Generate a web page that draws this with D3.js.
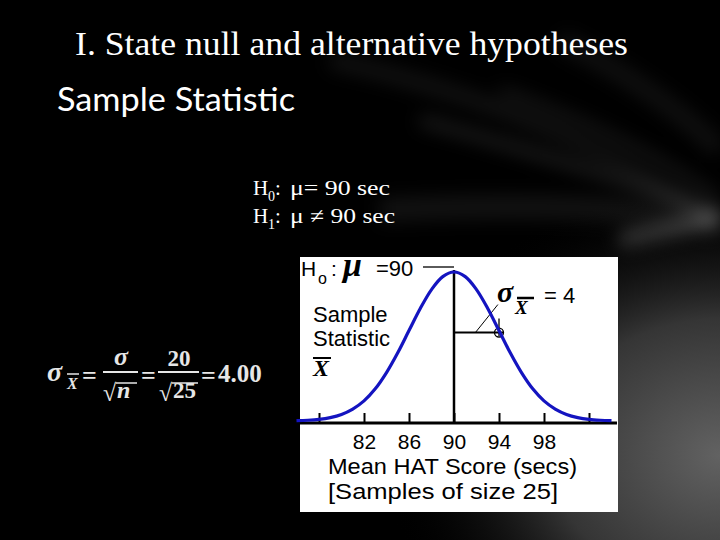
<!DOCTYPE html>
<html><head><meta charset="utf-8">
<script src="https://cdn.jsdelivr.net/npm/d3@7"></script>
<style>html,body{margin:0;padding:0;background:#000;}svg{display:block}</style>
</head><body>
<svg id="c" width="720" height="540"></svg>
<script>
// ---- data ----
const tickValues = [78, 82, 86, 90, 94, 98, 102];
const tickLabels = ["", "82", "86", "90", "94", "98", ""];
const curveScores  = [76, 77, 78, 79, 80, 81, 82, 83, 84, 85, 86, 87, 88, 89, 90, 91, 92, 93, 94, 95, 96, 97, 98, 99, 100, 101, 102, 103, 104];
const curveHeights = [0.002, 0.005, 0.011, 0.023, 0.044, 0.080, 0.135, 0.216, 0.325, 0.458, 0.607, 0.755, 0.882, 0.969, 1.0, 0.969, 0.882, 0.755, 0.607, 0.458, 0.325, 0.216, 0.135, 0.080, 0.044, 0.023, 0.011, 0.005, 0.002];
const muValue = 90;
const sdMarker = 94;        // mu + one standard error
const sdMarkerHeight = 0.607;
const titleText = "I. State null and alternative hypotheses";
const subtitleText = "Sample Statistic";
const xLabel1 = "Mean HAT Score (secs)";
const xLabel2 = "[Samples of size 25]";

const svg = d3.select("#c");
const defs = svg.append("defs");

// ---- background ----
svg.append("rect").attr("width", 720).attr("height", 540).attr("fill", "#000");
const blur = defs.append("filter").attr("id", "blur").attr("x", "-20%").attr("y", "-50%").attr("width", "140%").attr("height", "200%");
blur.append("feGaussianBlur").attr("stdDeviation", 9);
const rg = defs.append("radialGradient").attr("id", "rg").attr("cx", 1).attr("cy", 0.75).attr("r", 0.8);
rg.append("stop").attr("offset", 0).attr("stop-color", "#626262");
rg.append("stop").attr("offset", 0.5).attr("stop-color", "#353535");
rg.append("stop").attr("offset", 1).attr("stop-color", "#000").attr("stop-opacity", 0);
svg.append("rect").attr("x", 300).attr("y", 200).attr("width", 420).attr("height", 340).attr("fill", "url(#rg)");
const streaks = [
  {d: "M330,60 Q560,110 720,225", w: 16, o: 0.07},
  {d: "M420,120 Q600,170 720,215", w: 10, o: 0.12},
  {d: "M560,40 Q660,90 720,150", w: 20, o: 0.06},
  {d: "M380,210 Q600,200 720,222", w: 24, o: 0.07},
  {d: "M500,90 Q640,140 720,200", w: 6, o: 0.14},
  {d: "M620,240 Q690,225 720,218", w: 12, o: 0.25}
];
svg.append("g").attr("filter", "url(#blur)").selectAll("path").data(streaks).join("path")
  .attr("d", d => d.d).attr("fill", "none").attr("stroke", "#fff")
  .attr("stroke-width", d => d.w).attr("stroke-opacity", d => d.o);

// ---- titles ----
svg.append("text").attr("x", 75).attr("y", 55).attr("fill", "#fff")
  .attr("font-family", "Liberation Serif, Times New Roman, serif").attr("font-size", 33)
  .attr("textLength", 553).attr("lengthAdjust", "spacingAndGlyphs").text(titleText);
svg.append("text").attr("x", 57).attr("y", 111).attr("fill", "#fff")
  .attr("font-family", "Lato, Open Sans, sans-serif").attr("font-size", 32)
  .attr("textLength", 238).attr("lengthAdjust", "spacingAndGlyphs").text(subtitleText);

// ---- hypotheses ----
const hyp = svg.append("g").attr("fill", "#fff").attr("font-family", "Liberation Serif, Times New Roman, serif").attr("font-size", 21);
hyp.append("text").attr("x", 253).attr("y", 195).text("H");
hyp.append("text").attr("x", 268).attr("y", 201).attr("font-size", 14).text("0");
hyp.append("text").attr("x", 275).attr("y", 195).text(":");
hyp.append("text").attr("x", 290).attr("y", 195).attr("textLength", 100).attr("lengthAdjust", "spacingAndGlyphs").text("\u03bc= 90 sec");
hyp.append("text").attr("x", 253).attr("y", 223).text("H");
hyp.append("text").attr("x", 268).attr("y", 229).attr("font-size", 14).text("1");
hyp.append("text").attr("x", 275).attr("y", 223).text(":");
hyp.append("text").attr("x", 290).attr("y", 223).attr("textLength", 105).attr("lengthAdjust", "spacingAndGlyphs").text("\u03bc \u2260 90 sec");

// ---- formula ----
const fm = svg.append("g").attr("fill", "#e6e6e6").attr("stroke", "none")
  .attr("font-family", "Liberation Serif, Times New Roman, serif").attr("font-weight", "bold");
fm.append("text").attr("x", 47).attr("y", 381).attr("font-size", 28).attr("font-style", "italic").text("\u03c3");
fm.append("text").attr("x", 67).attr("y", 389).attr("font-size", 16).attr("font-style", "italic").text("X");
fm.append("line").attr("x1", 67).attr("x2", 79).attr("y1", 374).attr("y2", 374).attr("stroke", "#e6e6e6").attr("stroke-width", 1.5);
fm.append("text").attr("x", 82).attr("y", 384).attr("font-size", 26).text("=");
fm.append("text").attr("x", 121).attr("y", 365).attr("font-size", 26).attr("font-style", "italic").attr("text-anchor", "middle").text("\u03c3");
fm.append("line").attr("x1", 103).attr("x2", 138).attr("y1", 372).attr("y2", 372).attr("stroke", "#e6e6e6").attr("stroke-width", 2);
fm.append("text").attr("x", 103).attr("y", 401).attr("font-size", 24).attr("font-weight", "normal").text("\u221a");
fm.append("text").attr("x", 117).attr("y", 398).attr("font-size", 24).attr("font-style", "italic").text("n");
fm.append("line").attr("x1", 116).attr("x2", 137).attr("y1", 383).attr("y2", 383).attr("stroke", "#e6e6e6").attr("stroke-width", 1.5);
fm.append("text").attr("x", 141).attr("y", 384).attr("font-size", 26).text("=");
fm.append("text").attr("x", 179).attr("y", 366).attr("font-size", 23).attr("text-anchor", "middle").text("20");
fm.append("line").attr("x1", 158).attr("x2", 199).attr("y1", 372).attr("y2", 372).attr("stroke", "#e6e6e6").attr("stroke-width", 2);
fm.append("text").attr("x", 159).attr("y", 401).attr("font-size", 24).attr("font-weight", "normal").text("\u221a");
fm.append("text").attr("x", 173).attr("y", 398).attr("font-size", 23).text("25");
fm.append("line").attr("x1", 172).attr("x2", 198).attr("y1", 383).attr("y2", 383).attr("stroke", "#e6e6e6").attr("stroke-width", 1.5);
fm.append("text").attr("x", 201).attr("y", 384).attr("font-size", 26).text("=");
fm.append("text").attr("x", 218).attr("y", 382).attr("font-size", 25).text("4.00");

// ---- chart box ----
svg.append("rect").attr("x", 300).attr("y", 257).attr("width", 318).attr("height", 255).attr("fill", "#fff");

const x = d3.scaleLinear().domain([78, 102]).range([319, 589]);
const y = d3.scaleLinear().domain([0, 1]).range([421, 272]);
const axisY = 423;

const g = svg.append("g");
// axis
g.append("line").attr("x1", 300).attr("x2", 617).attr("y1", axisY).attr("y2", axisY).attr("stroke", "#000").attr("stroke-width", 3);
const ax = g.append("g").attr("transform", `translate(0,${axisY})`)
  .call(d3.axisBottom(x).tickValues(tickValues).tickFormat((d, i) => tickLabels[i]).tickSizeInner(-10).tickSizeOuter(0).tickPadding(11));
ax.select(".domain").remove();
ax.selectAll(".tick line").attr("stroke", "#000").attr("stroke-width", 2);
ax.selectAll(".tick text").attr("fill", "#000").attr("font-family", "Liberation Sans, Arial, sans-serif").attr("font-size", 21);

// centre line
g.append("line").attr("x1", x(muValue)).attr("x2", x(muValue)).attr("y1", axisY).attr("y2", y(1) - 2).attr("stroke", "#000").attr("stroke-width", 2.5);
// one-SE marker
const yS = y(sdMarkerHeight) + 2;
g.append("line").attr("x1", x(muValue)).attr("x2", x(sdMarker) + 4).attr("y1", yS).attr("y2", yS).attr("stroke", "#000").attr("stroke-width", 2);
g.append("circle").attr("cx", x(sdMarker)).attr("cy", yS).attr("r", 4.5).attr("fill", "none").attr("stroke", "#000").attr("stroke-width", 1.3);
g.append("line").attr("x1", x(sdMarker)).attr("x2", x(sdMarker)).attr("y1", yS - 14).attr("y2", yS + 4).attr("stroke", "#000").attr("stroke-width", 1.3);
g.append("line").attr("x1", x(91.9)).attr("x2", x(93.9)).attr("y1", yS).attr("y2", yS - 28).attr("stroke", "#000").attr("stroke-width", 1);

// curve
const pts = curveScores.map((s, i) => [s, curveHeights[i]]);
g.append("path").datum(pts)
  .attr("d", d3.line().x(d => x(d[0])).y(d => y(d[1])).curve(d3.curveCatmullRom))
  .attr("fill", "none").attr("stroke", "#1414c0").attr("stroke-width", 3.2);

// labels in box
const lb = svg.append("g").attr("fill", "#000").attr("font-family", "Liberation Sans, Arial, sans-serif");
lb.append("text").attr("x", 301).attr("y", 276).attr("font-size", 21).text("H");
lb.append("text").attr("x", 318).attr("y", 284).attr("font-size", 16).text("o");
lb.append("text").attr("x", 331).attr("y", 276).attr("font-size", 21).text(":");
lb.append("text").attr("x", 343).attr("y", 276).attr("font-size", 34).attr("font-weight", "bold").attr("font-style", "italic")
  .attr("font-family", "Liberation Serif, Times New Roman, serif").text("\u03bc");
lb.append("text").attr("x", 376).attr("y", 276).attr("font-size", 22).text("=90");
g.append("line").attr("x1", 423).attr("x2", x(muValue)).attr("y1", 267).attr("y2", 267).attr("stroke", "#000").attr("stroke-width", 1.3);

lb.append("text").attr("x", 313).attr("y", 322).attr("font-size", 22).text("Sample");
lb.append("text").attr("x", 313).attr("y", 346).attr("font-size", 22).text("Statistic");
lb.append("text").attr("x", 313).attr("y", 376).attr("font-size", 24).attr("font-weight", "bold").attr("font-style", "italic")
  .attr("font-family", "Liberation Serif, Times New Roman, serif").text("X");
g.append("line").attr("x1", 313).attr("x2", 331).attr("y1", 358).attr("y2", 358).attr("stroke", "#000").attr("stroke-width", 2);

lb.append("text").attr("x", 497).attr("y", 302).attr("font-size", 30).attr("font-weight", "bold").attr("font-style", "italic")
  .attr("font-family", "Liberation Serif, Times New Roman, serif").text("\u03c3");
lb.append("text").attr("x", 515).attr("y", 314).attr("font-size", 19).attr("font-weight", "bold").attr("font-style", "italic")
  .attr("font-family", "Liberation Serif, Times New Roman, serif").text("X");
g.append("line").attr("x1", 517).attr("x2", 534).attr("y1", 298).attr("y2", 298).attr("stroke", "#000").attr("stroke-width", 2.5);
lb.append("text").attr("x", 544).attr("y", 303).attr("font-size", 22).text("= 4");

lb.append("text").attr("x", 328).attr("y", 474).attr("font-size", 22).attr("textLength", 249).attr("lengthAdjust", "spacingAndGlyphs").text(xLabel1);
lb.append("text").attr("x", 328).attr("y", 499).attr("font-size", 22).attr("textLength", 230).attr("lengthAdjust", "spacingAndGlyphs").text(xLabel2);
</script>
</body></html>
